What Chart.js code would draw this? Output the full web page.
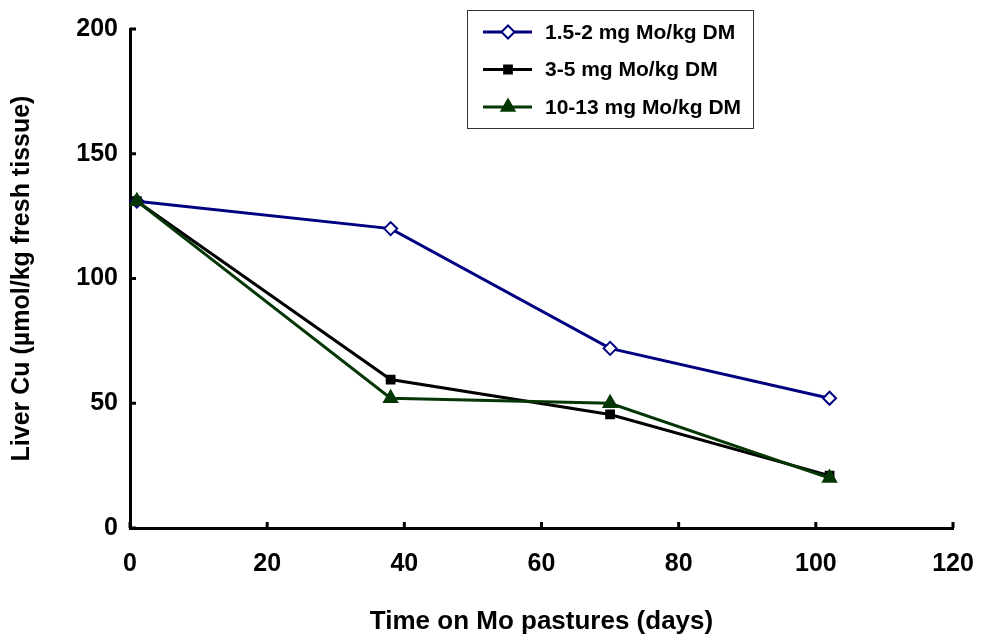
<!DOCTYPE html>
<html>
<head>
<meta charset="utf-8">
<script src="https://cdn.jsdelivr.net/npm/chart.js@4.4.1/dist/chart.umd.min.js"></script>
<style>
  html, body { margin: 0; padding: 0; background: #fff; }
  #wrap { width: 985px; height: 641px; }
</style>
</head>
<body>
<div id="wrap"><canvas id="cuChart" width="985" height="641"></canvas></div>
<script>
const days = [1, 38, 70, 102]
const lowMo = [131, 120, 72, 52]
const midMo = [131, 59.5, 45.5, 21]
const highMo = [131, 52, 50, 20]
const seriesNames = ['1.5-2 mg Mo/kg DM', '3-5 mg Mo/kg DM', '10-13 mg Mo/kg DM']
const xTicks = [0, 20, 40, 60, 80, 100, 120]
const yTicks = [0, 50, 100, 150, 200]

const FONT = '"Liberation Sans", Arial, sans-serif'
const toPoints = vals => vals.map((v, i) => ({ x: days[i], y: v }))

// ticks point inward, so draw them ourselves on top of the axes
const innerTicks = {
    id: 'innerTicks',
    afterDraw(chart) {
        const { ctx, chartArea, scales } = chart
        ctx.save()
        ctx.strokeStyle = '#000'
        ctx.lineWidth = 3
        ctx.beginPath()
        xTicks.forEach(t => {
            const px = scales.x.getPixelForValue(t)
            ctx.moveTo(px, chartArea.bottom)
            ctx.lineTo(px, chartArea.bottom - 6)
        })
        yTicks.forEach(t => {
            const py = scales.y.getPixelForValue(t)
            ctx.moveTo(chartArea.left, py)
            ctx.lineTo(chartArea.left + 6, py)
        })
        ctx.stroke()
        ctx.restore()
    }
}

const boxLegend = {
    id: 'boxLegend',
    afterDraw(chart) {
        const ctx = chart.ctx
        const box = { x: 467, y: 10, w: 286, h: 118 }
        ctx.save()
        ctx.fillStyle = '#fff'
        ctx.fillRect(box.x, box.y, box.w, box.h)
        ctx.strokeStyle = '#333'
        ctx.lineWidth = 1
        ctx.strokeRect(box.x + 0.5, box.y + 0.5, box.w, box.h)
        ctx.font = 'bold 21px ' + FONT
        ctx.textBaseline = 'middle'
        chart.data.datasets.forEach((ds, i) => {
            const cy = 32 + i * 37.5
            ctx.strokeStyle = ds.borderColor
            ctx.lineWidth = 3
            ctx.beginPath()
            ctx.moveTo(483, cy)
            ctx.lineTo(532, cy)
            ctx.stroke()
            ctx.fillStyle = ds.pointBackgroundColor
            ctx.strokeStyle = ds.pointBorderColor
            ctx.lineWidth = ds.pointBorderWidth
            Chart.helpers.drawPoint(ctx, {
                pointStyle: ds.pointStyle,
                radius: ds.pointRadius,
                borderWidth: ds.pointBorderWidth
            }, 508, cy)
            ctx.fillStyle = '#000'
            ctx.fillText(ds.label, 545, cy + 1)
        })
        ctx.restore()
    }
}

const makeSet = (label, data, color, style, radius, fill, order) => ({
    label: label,
    data: toPoints(data),
    borderColor: color,
    borderWidth: 3,
    backgroundColor: fill,
    pointStyle: style,
    pointRadius: radius,
    pointHoverRadius: radius,
    pointBackgroundColor: fill,
    pointBorderColor: color,
    pointBorderWidth: 2,
    tension: 0,
    clip: false,
    order: order
})

const ctx = document.getElementById('cuChart').getContext('2d')

const cuChart = new Chart(ctx, {
    type: 'line',
    data: {
        datasets: [
            makeSet(seriesNames[0], lowMo, '#000080', 'rectRot', 6.5, '#ffffff', 3),
            makeSet(seriesNames[1], midMo, '#000000', 'rect', 5.5, '#000000', 2),
            makeSet(seriesNames[2], highMo, '#053605', 'triangle', 7.5, '#053605', 1)
        ]
    },
    options: {
        responsive: false,
        animation: false,
        layout: { padding: { top: 29, right: 32, left: 0, bottom: 0 } },
        plugins: {
            legend: { display: false },
            tooltip: { enabled: false }
        },
        scales: {
            x: {
                type: 'linear',
                min: 0,
                max: 120,
                afterBuildTicks: s => { s.ticks = xTicks.map(v => ({ value: v })) },
                afterFit: s => {
                    s.height = 113
                    s.paddingLeft = 0
                    s.paddingRight = 0
                },
                border: { color: '#000', width: 3 },
                grid: { drawOnChartArea: false, drawTicks: false, color: '#000' },
                ticks: {
                    color: '#000',
                    padding: 21,
                    maxRotation: 0,
                    font: { family: FONT, size: 25, weight: 'bold' }
                },
                title: {
                    display: true,
                    text: 'Time on Mo pastures (days)',
                    color: '#000',
                    padding: { top: 0, bottom: 4 },
                    font: { family: FONT, size: 26, weight: 'bold' }
                }
            },
            y: {
                min: 0,
                max: 200,
                afterBuildTicks: s => { s.ticks = yTicks.map(v => ({ value: v })) },
                afterFit: s => {
                    s.width = 130
                    s.paddingTop = 0
                    s.paddingBottom = 0
                },
                border: { color: '#000', width: 3 },
                grid: { drawOnChartArea: false, drawTicks: false, color: '#000' },
                ticks: {
                    color: '#000',
                    padding: 12,
                    font: { family: FONT, size: 25, weight: 'bold' }
                },
                title: {
                    display: true,
                    text: 'Liver Cu (µmol/kg fresh tissue)',
                    color: '#000',
                    padding: { top: 7, bottom: 0 },
                    font: { family: FONT, size: 25, weight: 'bold' }
                }
            }
        }
    },
    plugins: [innerTicks, boxLegend]
})
</script>
</body>
</html>
